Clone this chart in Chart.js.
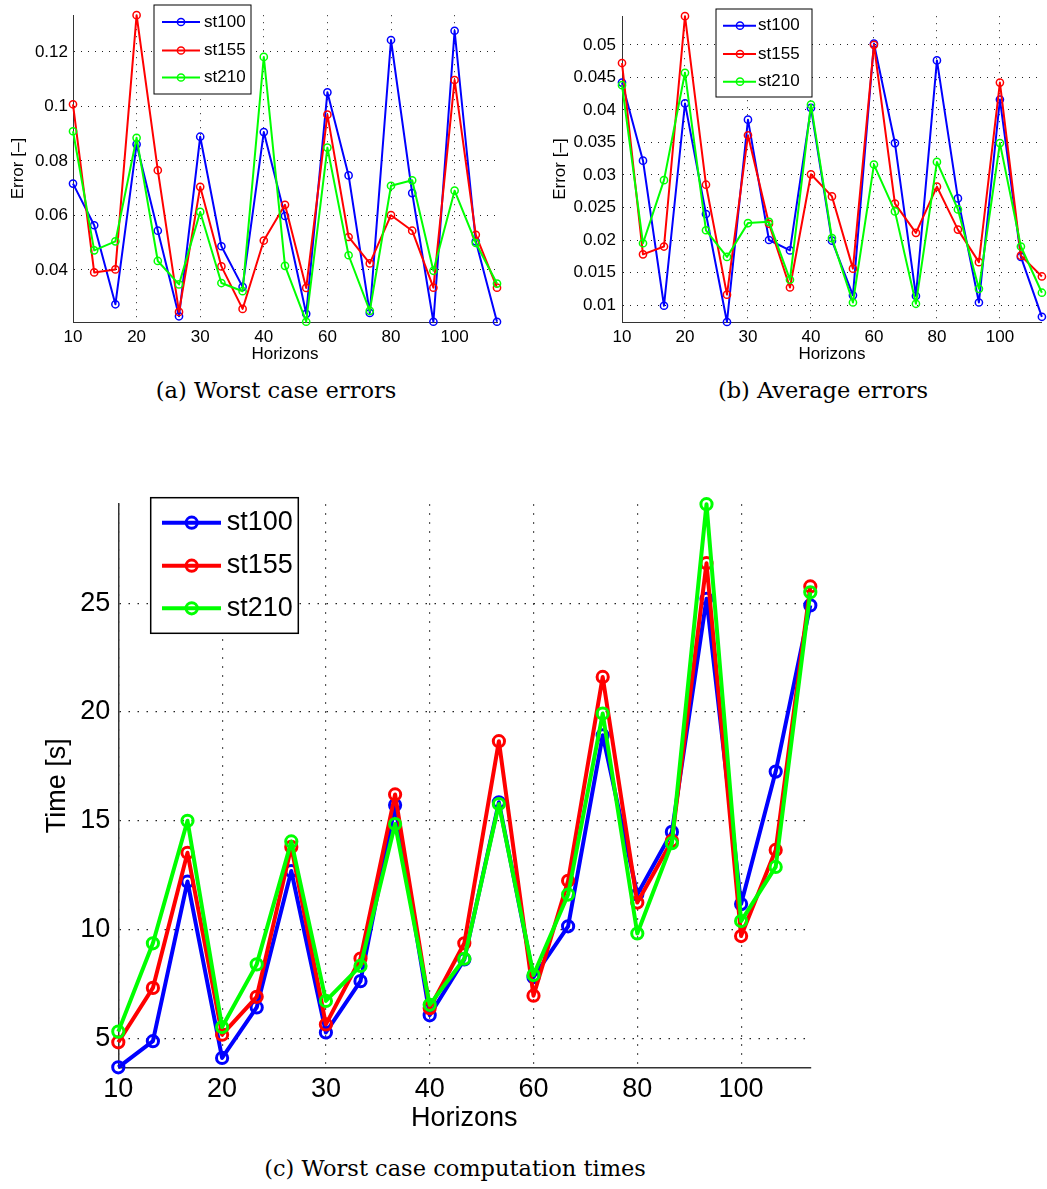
<!DOCTYPE html>
<html>
<head>
<meta charset="utf-8">
<title>Horizons</title>
<script src="https://cdn.jsdelivr.net/npm/chart.js@4.4.1/dist/chart.umd.min.js"></script>
<style>
  body { margin: 0; background: #fff; }
  .page { position: relative; width: 1047px; height: 1189px; overflow: hidden; background: #fff; }
  .panel { position: absolute; }
  .panel canvas { display: block; }
  .caption { position: absolute; transform: translate(-50%, -50%); white-space: nowrap;
             font-family: "DejaVu Serif", serif; font-size: 22.5px; color: #000; }
</style>
</head>
<body>
<div class="page">
  <div class="panel" style="left:0;top:0;width:505px;height:372px"><canvas id="worstChart"></canvas></div>
  <div class="panel" style="left:540px;top:0;width:507px;height:372px"><canvas id="avgChart"></canvas></div>
  <div class="panel" style="left:0;top:480px;width:830px;height:660px"><canvas id="timeChart"></canvas></div>
  <div class="caption" style="left:276px;top:390px">(a) Worst case errors</div>
  <div class="caption" style="left:823px;top:390px">(b) Average errors</div>
  <div class="caption" style="left:455px;top:1168px">(c) Worst case computation times</div>
</div>
<script>
// Data, 21 horizons per series
const horizonLabels = [10, 20, 30, 40, 60, 80, 100];
const labelSlots = [0, 3, 6, 9, 12, 15, 18];
const seriesNames = ['st100', 'st155', 'st210'];
const seriesColors = ['#0000ff', '#ff0000', '#00ff00'];

const worstErr100 = [0.0717, 0.0564, 0.0274, 0.0861, 0.0544, 0.0230, 0.0889, 0.0487, 0.0338, 0.0906, 0.0598,
                     0.0239, 0.1052, 0.0747, 0.0242, 0.1244, 0.0682, 0.0210, 0.1278, 0.0505, 0.0210];
const worstErr155 = [0.1008, 0.0391, 0.0402, 0.1335, 0.0766, 0.0246, 0.0705, 0.0413, 0.0257, 0.0508, 0.0639,
                     0.0334, 0.0970, 0.0521, 0.0424, 0.0601, 0.0544, 0.0335, 0.1097, 0.0529, 0.0335];
const worstErr210 = [0.0909, 0.0472, 0.0505, 0.0885, 0.0433, 0.0347, 0.0613, 0.0352, 0.0322, 0.1182, 0.0415,
                     0.0210, 0.0849, 0.0454, 0.0250, 0.0709, 0.0729, 0.0397, 0.0691, 0.0499, 0.0350];

const avgErr100 = [0.0442, 0.0322, 0.0099, 0.0410, 0.0240, 0.0074, 0.0385, 0.0200, 0.0184, 0.0403, 0.0199,
                   0.0115, 0.0502, 0.0349, 0.0114, 0.0476, 0.0264, 0.0104, 0.0416, 0.0174, 0.0082];
const avgErr155 = [0.0472, 0.0178, 0.0190, 0.0544, 0.0285, 0.0116, 0.0361, 0.0225, 0.0127, 0.0301, 0.0267,
                   0.0156, 0.0500, 0.0256, 0.0211, 0.0282, 0.0216, 0.0166, 0.0442, 0.0176, 0.0144];
const avgErr210 = [0.0438, 0.0195, 0.0292, 0.0457, 0.0215, 0.0174, 0.0226, 0.0228, 0.0139, 0.0408, 0.0203,
                   0.0104, 0.0316, 0.0244, 0.0102, 0.0320, 0.0247, 0.0125, 0.0349, 0.0190, 0.0119];

const time100 = [3.67, 4.87, 12.21, 4.10, 6.42, 12.69, 5.27, 7.63, 15.72, 6.06, 8.63,
                 15.85, 7.81, 10.15, 18.93, 11.61, 14.49, 25.20, 11.17, 17.26, 24.90];
const time155 = [4.82, 7.32, 13.53, 5.17, 6.91, 13.80, 5.64, 8.67, 16.21, 6.39, 9.37,
                 18.66, 6.96, 12.24, 21.61, 11.24, 14.08, 26.84, 9.70, 13.66, 25.77];
const time210 = [5.31, 9.37, 15.00, 5.52, 8.40, 14.05, 6.72, 8.33, 14.85, 6.54, 8.66,
                 15.77, 7.91, 11.61, 19.93, 9.82, 13.97, 29.55, 10.39, 12.88, 25.50];

const worstTicks = [0.04, 0.06, 0.08, 0.1, 0.12];
const avgTicks = [0.01, 0.015, 0.02, 0.025, 0.03, 0.035, 0.04, 0.045, 0.05];
const timeTicks = [5, 10, 15, 20, 25];

const SANS = '"Liberation Sans", Arial, Helvetica, sans-serif';

// Framed legend like the MATLAB one: line + open circle + label
const frameLegend = {
    id: 'frameLegend',
    afterDatasetsDraw(chart, args, opts) {
        const ctx = chart.ctx;
        ctx.save();
        ctx.fillStyle = '#fff';
        ctx.fillRect(opts.x, opts.y, opts.w, opts.h);
        ctx.strokeStyle = '#000';
        ctx.lineWidth = opts.frameWidth;
        ctx.strokeRect(opts.x, opts.y, opts.w, opts.h);
        chart.data.datasets.forEach((ds, k) => {
            const y = opts.rows[k];
            ctx.strokeStyle = ds.borderColor;
            ctx.lineWidth = ds.borderWidth;
            ctx.beginPath();
            ctx.moveTo(opts.lineX1, y);
            ctx.lineTo(opts.lineX2, y);
            ctx.stroke();
            ctx.lineWidth = ds.pointBorderWidth;
            ctx.beginPath();
            ctx.arc(opts.markX, y, ds.pointRadius, 0, Math.PI * 2);
            ctx.stroke();
            ctx.fillStyle = '#000';
            ctx.font = opts.fontSize + 'px ' + SANS;
            ctx.textBaseline = 'middle';
            ctx.fillText(ds.label, opts.textX, y);
        });
        ctx.restore();
    }
};

function fmt(v) {
    return String(Number(v.toFixed(4)));
}

function buildChart(canvasId, c) {
    const datasets = c.series.map((vals, k) => ({
        label: seriesNames[k],
        data: vals.map((v, i) => ({ x: i, y: v })),
        borderColor: seriesColors[k],
        backgroundColor: seriesColors[k],
        pointBorderColor: seriesColors[k],
        pointBackgroundColor: 'rgba(255,255,255,0)',
        borderWidth: c.lineWidth,
        borderJoinStyle: 'round',
        pointRadius: c.pointRadius,
        pointBorderWidth: c.pointBorderWidth,
        pointHoverRadius: c.pointRadius,
        tension: 0,
        clip: false,
        order: 3 - k
    }));

    const gridStyle = {
        color: '#222',
        lineWidth: c.gridWidth,
        drawTicks: false
    };
    const borderStyle = { color: '#333', width: c.axisWidth, dash: c.gridDash };

    new Chart(document.getElementById(canvasId), {
        type: 'line',
        data: { datasets },
        plugins: [frameLegend],
        options: {
            responsive: true,
            maintainAspectRatio: false,
            animation: false,
            events: [],
            layout: { padding: { left: 0, top: c.padTop, right: c.padRight, bottom: 0 } },
            plugins: {
                legend: { display: false },
                tooltip: { enabled: false },
                frameLegend: c.legend
            },
            scales: {
                x: {
                    type: 'linear',
                    min: 0,
                    max: c.series[0].length - 1,
                    afterBuildTicks: s => { s.ticks = labelSlots.map(v => ({ value: v })); },
                    afterFit: s => { s.height = c.xAxisHeight; },
                    ticks: {
                        autoSkip: false,
                        maxRotation: 0,
                        padding: c.xTickPad,
                        color: '#000',
                        font: { family: SANS, size: c.fontSize, lineHeight: 1.2 },
                        callback: (v, i) => horizonLabels[i]
                    },
                    grid: gridStyle,
                    border: borderStyle,
                    title: {
                        display: true,
                        text: 'Horizons',
                        color: '#000',
                        font: { family: SANS, size: c.fontSize, lineHeight: 1.2 },
                        padding: { top: 0, bottom: c.xTitlePad }
                    }
                },
                y: {
                    type: 'linear',
                    min: c.yMin,
                    max: c.yMax,
                    afterBuildTicks: s => { s.ticks = c.yTicks.map(v => ({ value: v })); },
                    afterFit: s => { s.width = c.yAxisWidth; },
                    ticks: {
                        padding: c.yTickPad,
                        color: '#000',
                        font: { family: SANS, size: c.fontSize, lineHeight: 1.2 },
                        callback: v => fmt(v)
                    },
                    grid: gridStyle,
                    border: borderStyle,
                    title: {
                        display: true,
                        text: c.yTitle,
                        color: '#000',
                        font: { family: SANS, size: c.fontSize, lineHeight: 1.2 },
                        padding: { top: c.yTitlePad, bottom: 0 }
                    }
                }
            }
        }
    });
}

// (a) Worst case errors
buildChart('worstChart', {
    series: [worstErr100, worstErr155, worstErr210],
    yMin: 0.0209, yMax: 0.1335, yTicks: worstTicks, yTitle: 'Error [\u2013]',
    padTop: 9, padRight: 8, yAxisWidth: 73, xAxisHeight: 50,
    xTickPad: 5, xTitlePad: 7, yTickPad: 5, yTitlePad: 8,
    fontSize: 17, lineWidth: 2, pointRadius: 3.6, pointBorderWidth: 1.5,
    gridWidth: 1, gridDash: [1, 6], axisWidth: 1,
    legend: { x: 154, y: 5, w: 97, h: 89, frameWidth: 1, rows: [22, 50.5, 77.5],
              lineX1: 162, lineX2: 200, markX: 181, textX: 204, fontSize: 17 }
});

// (b) Average errors
buildChart('avgChart', {
    series: [avgErr100, avgErr155, avgErr210],
    yMin: 0.0074, yMax: 0.0544, yTicks: avgTicks, yTitle: 'Error [\u2013]',
    padTop: 9, padRight: 4, yAxisWidth: 82, xAxisHeight: 50,
    xTickPad: 5, xTitlePad: 7, yTickPad: 6, yTitlePad: 10.5,
    fontSize: 17, lineWidth: 2, pointRadius: 3.6, pointBorderWidth: 1.5,
    gridWidth: 1, gridDash: [1, 6], axisWidth: 1,
    legend: { x: 176, y: 9, w: 96, h: 88, frameWidth: 1, rows: [25.7, 54, 81.7],
              lineX1: 183, lineX2: 216, markX: 200, textX: 218, fontSize: 17 }
});

// (c) Worst case computation times
buildChart('timeChart', {
    series: [time100, time155, time210],
    yMin: 3.67, yMax: 29.55, yTicks: timeTicks, yTitle: 'Time [s]',
    padTop: 10.7, padRight: 19.7, yAxisWidth: 118.3, xAxisHeight: 72.7,
    xTickPad: 6.5, xTitlePad: 5.5, yTickPad: 8, yTitlePad: 41.3,
    fontSize: 27, lineWidth: 4, pointRadius: 5.6, pointBorderWidth: 3,
    gridWidth: 1.2, gridDash: [1.5, 7.5], axisWidth: 1.5,
    legend: { x: 150.7, y: 17.7, w: 147.6, h: 135.6, frameWidth: 1.5, rows: [42.7, 85.7, 128.3],
              lineX1: 162, lineX2: 221, markX: 191.7, textX: 226.7, fontSize: 27 }
});
</script>
</body>
</html>
